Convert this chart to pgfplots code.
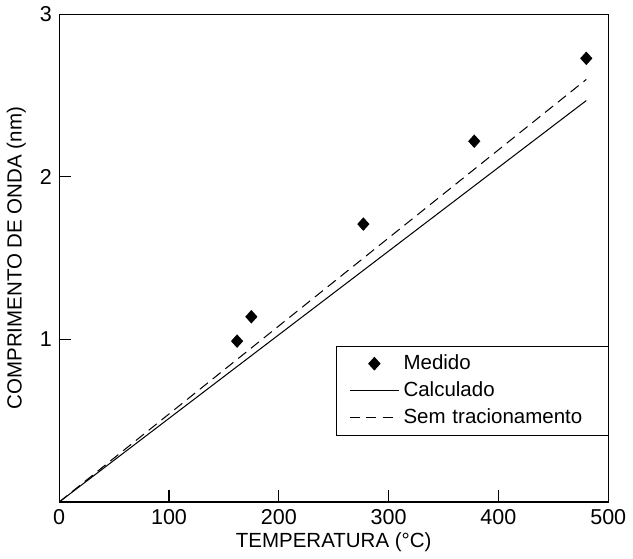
\documentclass[border=0pt]{standalone}
\usepackage{pgfplots}
\pgfplotsset{compat=1.18}
\usepackage{fontspec}
\setmainfont{Liberation Sans}
\usetikzlibrary{plotmarks}

\begin{document}
\begin{tikzpicture}
\begin{axis}[
  width=268pt, height=238pt,
  scale only axis,
  xmin=0, xmax=500, ymin=0, ymax=3,
  xtick={0,100,200,300,400,500},
  ytick={1,2,3},
  xtick pos=lower, ytick pos=left,
  tick align=inside,
  major tick length=6pt,
  tick style={black, line width=0.5pt},
  axis line style={line width=0.6pt},
  /pgf/number format/assume math mode=true,
  ticklabel style={font=\fontsize{10.5}{12}\selectfont},
  xlabel={TEMPERATURA (°C)},
  ylabel={COMPRIMENTO DE ONDA (nm)},
  label style={font=\fontsize{10}{12}\selectfont},
  xlabel style={yshift=3pt},
  ylabel style={yshift=0pt},
  legend style={at={(0.505,0.32)}, anchor=north west, draw=black, line width=0.5pt,
    font=\fontsize{10}{12}\selectfont, inner xsep=6pt, inner ysep=2pt,
    row sep=0.5pt, text width=92pt},
  legend cell align=left,
  legend image code/.code={\draw[mark repeat=2, mark phase=2, #1] plot coordinates {(0pt,0pt) (12pt,0pt) (24pt,0pt)};},
]
\addplot[only marks, mark=diamond*, mark size=3pt, mark options={fill=black, draw=black, solid, xscale=1.2}]
  coordinates {(162,0.99) (175,1.14) (277,1.71) (378,2.22) (480,2.73)};
\addlegendentry{Medido}
\addplot[black, line width=0.5pt] coordinates {(0,0) (480,2.47)};
\addlegendentry{Calculado}
\addplot[black, line width=0.5pt, dash pattern=on 5pt off 3pt] coordinates {(0,0) (480,2.60)};
\addlegendentry{Sem tracionamento}
\end{axis}
\end{tikzpicture}
\end{document}
